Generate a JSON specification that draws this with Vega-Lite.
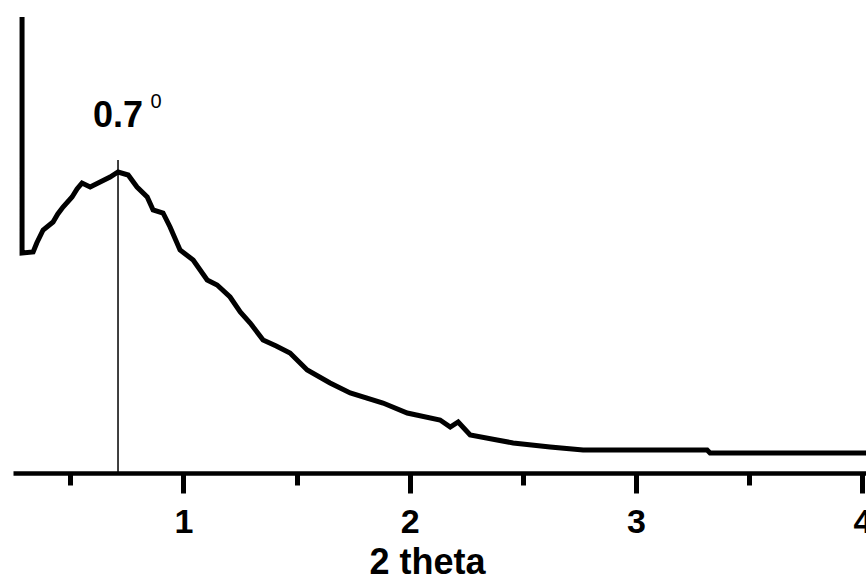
{
  "$schema": "https://vega.github.io/schema/vega-lite/v6.json",
  "width": 853,
  "height": 458,
  "autosize": {"type": "none"},
  "padding": {"left": 13, "top": 15, "right": 0, "bottom": 107},
  "background": "white",
  "config": {"view": {"stroke": null}, "font": "Liberation Sans"},
  "datasets": {
    "xrd": [
      {"theta": 0.287, "intensity": 456},
      {"theta": 0.287, "intensity": 220},
      {"theta": 0.336, "intensity": 221},
      {"theta": 0.352, "intensity": 230},
      {"theta": 0.380, "intensity": 243},
      {"theta": 0.424, "intensity": 251},
      {"theta": 0.445, "intensity": 259},
      {"theta": 0.468, "intensity": 266},
      {"theta": 0.508, "intensity": 276},
      {"theta": 0.530, "intensity": 284},
      {"theta": 0.552, "intensity": 290},
      {"theta": 0.588, "intensity": 286},
      {"theta": 0.632, "intensity": 291},
      {"theta": 0.676, "intensity": 296},
      {"theta": 0.711, "intensity": 301},
      {"theta": 0.756, "intensity": 298},
      {"theta": 0.795, "intensity": 286},
      {"theta": 0.840, "intensity": 276},
      {"theta": 0.866, "intensity": 263},
      {"theta": 0.910, "intensity": 260},
      {"theta": 0.941, "intensity": 246},
      {"theta": 0.985, "intensity": 223},
      {"theta": 1.043, "intensity": 213},
      {"theta": 1.105, "intensity": 193},
      {"theta": 1.149, "intensity": 188},
      {"theta": 1.206, "intensity": 176},
      {"theta": 1.251, "intensity": 161},
      {"theta": 1.295, "intensity": 150},
      {"theta": 1.352, "intensity": 133},
      {"theta": 1.410, "intensity": 127},
      {"theta": 1.471, "intensity": 120},
      {"theta": 1.547, "intensity": 103},
      {"theta": 1.648, "intensity": 90},
      {"theta": 1.737, "intensity": 80},
      {"theta": 1.882, "intensity": 70},
      {"theta": 1.989, "intensity": 60},
      {"theta": 2.134, "intensity": 53},
      {"theta": 2.179, "intensity": 46},
      {"theta": 2.214, "intensity": 51},
      {"theta": 2.267, "intensity": 38},
      {"theta": 2.386, "intensity": 33},
      {"theta": 2.457, "intensity": 30},
      {"theta": 2.620, "intensity": 26},
      {"theta": 2.766, "intensity": 23},
      {"theta": 3.314, "intensity": 23},
      {"theta": 3.327, "intensity": 20},
      {"theta": 4.017, "intensity": 20}
    ],
    "peak": [
      {"theta": 0.711, "top": 313, "label": "0.7", "sup": "0"}
    ]
  },
  "layer": [
    {
      "data": {"name": "xrd"},
      "mark": {"type": "line", "color": "black", "strokeWidth": 5, "clip": true},
      "encoding": {
        "x": {
          "field": "theta",
          "type": "quantitative",
          "scale": {"domain": [0.247, 4.016], "nice": false, "zero": false},
          "axis": {
            "values": [0.5, 1, 1.5, 2, 2.5, 3, 3.5, 4],
            "labelExpr": "datum.value % 1 === 0 ? '' + datum.value : ''",
            "grid": false,
            "domainColor": "black",
            "domainWidth": 4.5,
            "tickColor": "black",
            "tickWidth": 5,
            "tickSize": {"condition": {"test": "datum.value % 1 === 0", "value": 20}, "value": 12},
            "labelFont": "Liberation Sans",
            "labelFontSize": 34,
            "labelFontWeight": "bold",
            "labelColor": "black",
            "labelPadding": 12,
            "labelFlush": false,
            "labelOverlap": false,
            "labelBound": false,
            "title": "2 theta",
            "titleFont": "Liberation Sans",
            "titleFontSize": 36,
            "titleFontWeight": "bold",
            "titleColor": "black",
            "titleX": 414,
            "titleY": 100,
            "titleAlign": "center",
            "titleBaseline": "alphabetic"
          }
        },
        "y": {
          "field": "intensity",
          "type": "quantitative",
          "scale": {"domain": [0, 458], "nice": false},
          "axis": null
        }
      }
    },
    {
      "data": {"name": "peak"},
      "mark": {"type": "rule", "color": "black", "strokeWidth": 1.5},
      "encoding": {
        "x": {"field": "theta", "type": "quantitative"},
        "y": {"field": "top", "type": "quantitative"},
        "y2": {"datum": 0}
      }
    },
    {
      "data": {"name": "peak"},
      "mark": {"type": "text", "font": "Liberation Sans", "fontSize": 36, "fontWeight": "bold", "align": "center", "baseline": "alphabetic", "color": "black", "dy": -33},
      "encoding": {
        "x": {"field": "theta", "type": "quantitative"},
        "y": {"field": "top", "type": "quantitative"},
        "text": {"field": "label"}
      }
    },
    {
      "data": {"name": "peak"},
      "mark": {"type": "text", "font": "Liberation Sans", "fontSize": 20, "fontWeight": "normal", "align": "center", "baseline": "alphabetic", "color": "black", "dx": 38, "dy": -52},
      "encoding": {
        "x": {"field": "theta", "type": "quantitative"},
        "y": {"field": "top", "type": "quantitative"},
        "text": {"field": "sup"}
      }
    }
  ]
}
